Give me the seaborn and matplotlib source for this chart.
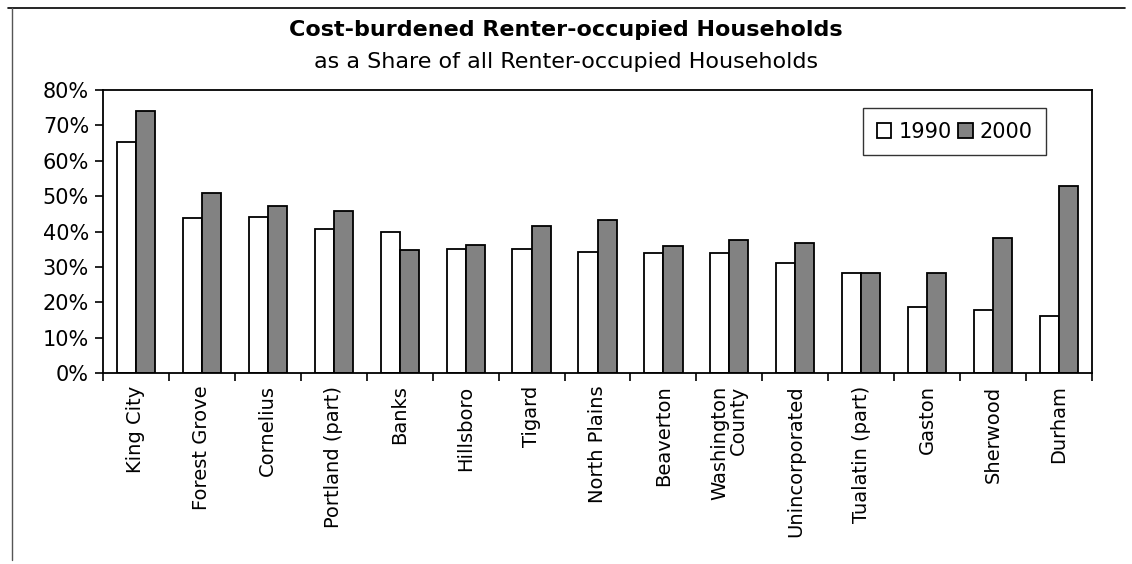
import pandas as pd
import matplotlib
matplotlib.use("Agg")
import matplotlib.pyplot as plt
from matplotlib.lines import Line2D
from matplotlib.ticker import PercentFormatter, FixedLocator
import seaborn as sns

places = ['King City', 'Forest Grove', 'Cornelius', 'Portland (part)', 'Banks',
          'Hillsboro', 'Tigard', 'North Plains', 'Beaverton', 'Washington\nCounty',
          'Unincorporated', 'Tualatin (part)', 'Gaston', 'Sherwood', 'Durham']
share_1990 = [0.653, 0.438, 0.441, 0.407, 0.398, 0.350, 0.350, 0.342, 0.339,
              0.339, 0.311, 0.282, 0.186, 0.178, 0.161]
share_2000 = [0.740, 0.508, 0.472, 0.458, 0.347, 0.362, 0.415, 0.432, 0.359,
              0.376, 0.367, 0.282, 0.282, 0.381, 0.528]
years = ['1990', '2000']

df = pd.DataFrame({'place': places * 2,
                   'share': share_1990 + share_2000,
                   'year': [years[0]] * len(places) + [years[1]] * len(places)})

sns.set_style('white')
plt.rcParams['font.family'] = ['DejaVu Sans']
plt.rcParams['text.color'] = 'black'
plt.rcParams['xtick.color'] = 'black'
plt.rcParams['ytick.color'] = 'black'

fig = plt.figure(figsize=(11.32, 5.64), dpi=100)
ax = fig.add_axes([103 / 1132, 1 - 373 / 564, (1092 - 103) / 1132, (373 - 90) / 564])

sns.barplot(data=df, x='place', y='share', hue='year', order=places,
            palette={'1990': 'white', '2000': '#828282'}, edgecolor='black',
            linewidth=1.3, width=0.58, gap=0, ax=ax)

ax.set_xlim(-0.5, len(places) - 0.5)
ax.set_ylim(0, 0.8)
ax.yaxis.set_major_locator(FixedLocator([i / 10 for i in range(9)]))
ax.yaxis.set_major_formatter(PercentFormatter(1.0, decimals=0))
ax.set_xlabel('')
ax.set_ylabel('')

# tick marks sit between categories, labels at the centres
ax.set_xticks([i - 0.5 for i in range(len(places) + 1)], minor=True)
ax.tick_params(axis='x', which='major', length=0, pad=9, labelsize=14, rotation=90)
ax.tick_params(axis='x', which='minor', length=6, width=1.2, direction='out', bottom=True)
ax.tick_params(axis='y', length=6, width=1.2, direction='out', left=True, labelsize=15, pad=4)
for lbl in ax.get_xticklabels():
    lbl.set_multialignment('right')
    lbl.set_linespacing(1.0)

for sp in ax.spines.values():
    sp.set_visible(True)
    sp.set_color('black')
    sp.set_linewidth(1.3)

leg = ax.legend(loc='upper left', bbox_to_anchor=((863 - 103) / 989, 1 - (108 - 90) / 283),
                ncol=2, fontsize=15, frameon=True, fancybox=False, edgecolor='black',
                handlelength=0.7, handleheight=0.7, handletextpad=0.35, columnspacing=0.3,
                borderpad=0.65, borderaxespad=0)
leg.get_frame().set_linewidth(1.0)
leg.set_title(None)

fig.text(0.5, 1 - 30 / 564, 'Cost-burdened Renter-occupied Households',
         ha='center', va='center', fontsize=16, fontweight='bold')
fig.text(0.5, 1 - 62 / 564, 'as a Share of all Renter-occupied Households',
         ha='center', va='center', fontsize=16)

# scanned page frame
fig.add_artist(Line2D([8 / 1132, 1125 / 1132], [1 - 8 / 564, 1 - 8 / 564],
                      color='black', lw=1.2))
fig.add_artist(Line2D([12 / 1132, 12 / 1132], [1 - 8 / 564, 1 - 560 / 564],
                      color='#555555', lw=1.0))

fig.savefig('out.png', dpi=100, facecolor='white')
